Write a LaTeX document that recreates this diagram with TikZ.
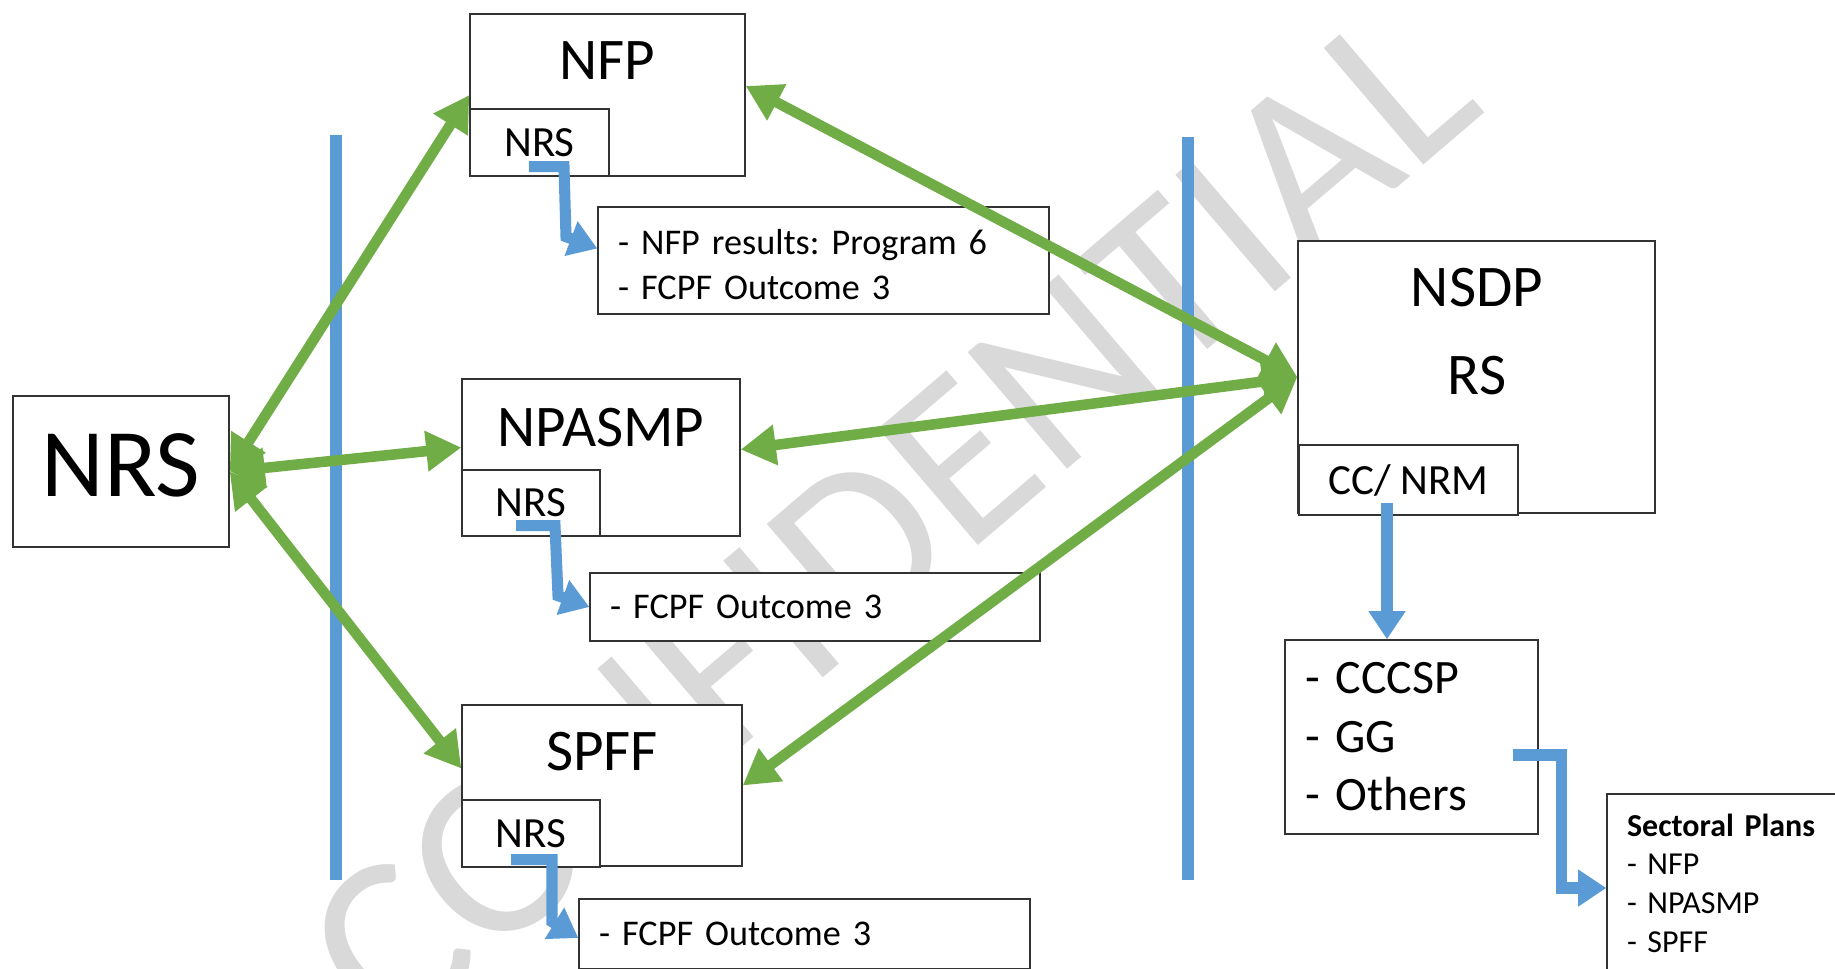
\documentclass[tikz,border=0pt]{standalone}
\usepackage{fontspec}
\setmainfont{Carlito}
\frenchspacing
\usetikzlibrary{arrows.meta,calc}
\definecolor{plangreen}{RGB}{112,173,71}
\definecolor{planblue}{RGB}{91,155,213}
\definecolor{markgray}{RGB}{217,217,217}

\begin{document}
\begin{tikzpicture}[x=0.02cm, y=-0.02cm,
  box/.style={draw=black!80, line width=0.8pt, fill=white, inner sep=0pt},
  listbox/.style={box, align=left, inner xsep=0.4cm},
  duo/.style={<->, >={Triangle[length=20pt,width=22pt]}, plangreen, line width=6pt},
  link/.style={->, >={Triangle[length=16pt,width=20pt]}, planblue, line width=6.3pt},
  divider/.style={planblue, line width=6.5pt},
  bigtxt/.style={font=\fontsize{55.2}{66}\selectfont},
  titletxt/.style={font=\fontsize{33.6}{40}\selectfont},
  subtxt/.style={font=\fontsize{24.5}{29}\selectfont},
  itemtxt/.style={font=\fontsize{20.6}{25.6}\selectfont}]
  \useasboundingbox (0,0) rectangle (1835,968);
  \clip (0,0) rectangle (1835,968);

  % 水印
  \node[text=markgray, font=\fontsize{136}{160}\selectfont, rotate=40.5] (mark) at (890,520) {CONFIDENTIAL};

  % 分隔线
  \draw[divider] (336,135) -- (336,880);
  \draw[divider] (1188,137) -- (1188,880);

  % 节点定义
  \node[box, bigtxt, minimum width=4.32cm, minimum height=3.02cm] (nrs) at (121,471.5) {\raisebox{3.4pt}[\height][\depth]{NRS}};

  \node[box, minimum width=5.5cm, minimum height=3.24cm] (nfp) at (607.5,95) {};
  \node[titletxt] (nfpT) at (607,61) {NFP};
  \node[box, subtxt, minimum width=2.78cm, minimum height=1.34cm] (nfpnrs) at (539.5,142.5) {NRS};
  \node[listbox, itemtxt, text width=8.22cm, minimum height=2.14cm] (nfpres) at (823.5,260.5) {\rule{0pt}{19pt}- NFP results: Program 6\\- FCPF Outcome 3};

  \node[box, minimum width=5.56cm, minimum height=3.14cm] (npasmp) at (601,457.5) {};
  \node[titletxt] (npasmpT) at (601,428) {NPASMP};
  \node[box, subtxt, minimum width=2.76cm, minimum height=1.32cm] (npasmpnrs) at (531,503) {NRS};
  \node[listbox, itemtxt, text width=8.2cm, minimum height=1.36cm] (npasmpres) at (815,607) {- FCPF Outcome 3};

  \node[box, minimum width=5.6cm, minimum height=3.22cm] (spff) at (602,785.5) {};
  \node[titletxt] (spffT) at (602,752) {SPFF};
  \node[box, subtxt, minimum width=2.76cm, minimum height=1.34cm] (spffnrs) at (531,833.5) {NRS};
  \node[listbox, itemtxt, text width=8.22cm, minimum height=1.4cm] (spffres) at (804.5,934) {- FCPF Outcome 3};

  \node[box, minimum width=7.14cm, minimum height=5.44cm] (nsdp) at (1476.5,377) {};
  \node[titletxt] (nsdpT) at (1477,288) {NSDP};
  \node[titletxt] (rsT) at (1477,376) {RS};
  \node[box, subtxt, minimum width=4.38cm, minimum height=1.4cm] (ccnrm) at (1408.5,480) {CC/ NRM};

  \node[listbox, font=\fontsize{27.3}{33.3}\selectfont, text width=4.26cm, minimum height=3.88cm] (cccsp) at (1411.5,737) {- CCCSP\\- GG\\- Others};
  \node[listbox, font=\fontsize{18.2}{22}\selectfont, text width=4.06cm, minimum height=3.56cm] (sectoral) at (1728.5,883) {\textbf{Sectoral Plans}\\- NFP\\- NPASMP\\- SPFF};

  % 蓝色箭头
  \draw[link] ($(nfpnrs.south)+(-10.5,-10)$) -- ++(35,0) -- ++(2,70) -- ($(nfpres.west)+(0,-12)$);
  \draw[link] ($(npasmpnrs.south)+(-15,-11)$) -- ++(39,0) -- ++(3,70) -- (npasmpres.west);
  \draw[link] ($(spffnrs.south)+(-20,-8)$) -- ++(41,0) -- ++(0,62) -- ($(spffres.west)+(0,4)$);
  \draw[link] ($(ccnrm.south)+(-21.5,-13)$) -- ($(cccsp.north)+(-24.5,0)$);
  \draw[link] ($(cccsp.east)+(-26,18)$) -| ($(sectoral.west)+(-45,5)$) -- ($(sectoral.west)+(0,5)$);

  % 双向箭头
  \draw[duo] (nrs.east) -- (nfp.west);
  \draw[duo] (nrs.east) -- ($(npasmp.west)+(0,-10)$);
  \draw[duo] (nrs.east) -- ($(spff.west)+(0,-17)$);
  \draw[duo] ($(nfp.east)+(0,-9)$) -- (nsdp.west);
  \draw[duo] ($(npasmp.east)+(0,-8)$) -- (nsdp.west);
  \draw[duo] (spff.east) -- (nsdp.west);
\end{tikzpicture}
\end{document}
